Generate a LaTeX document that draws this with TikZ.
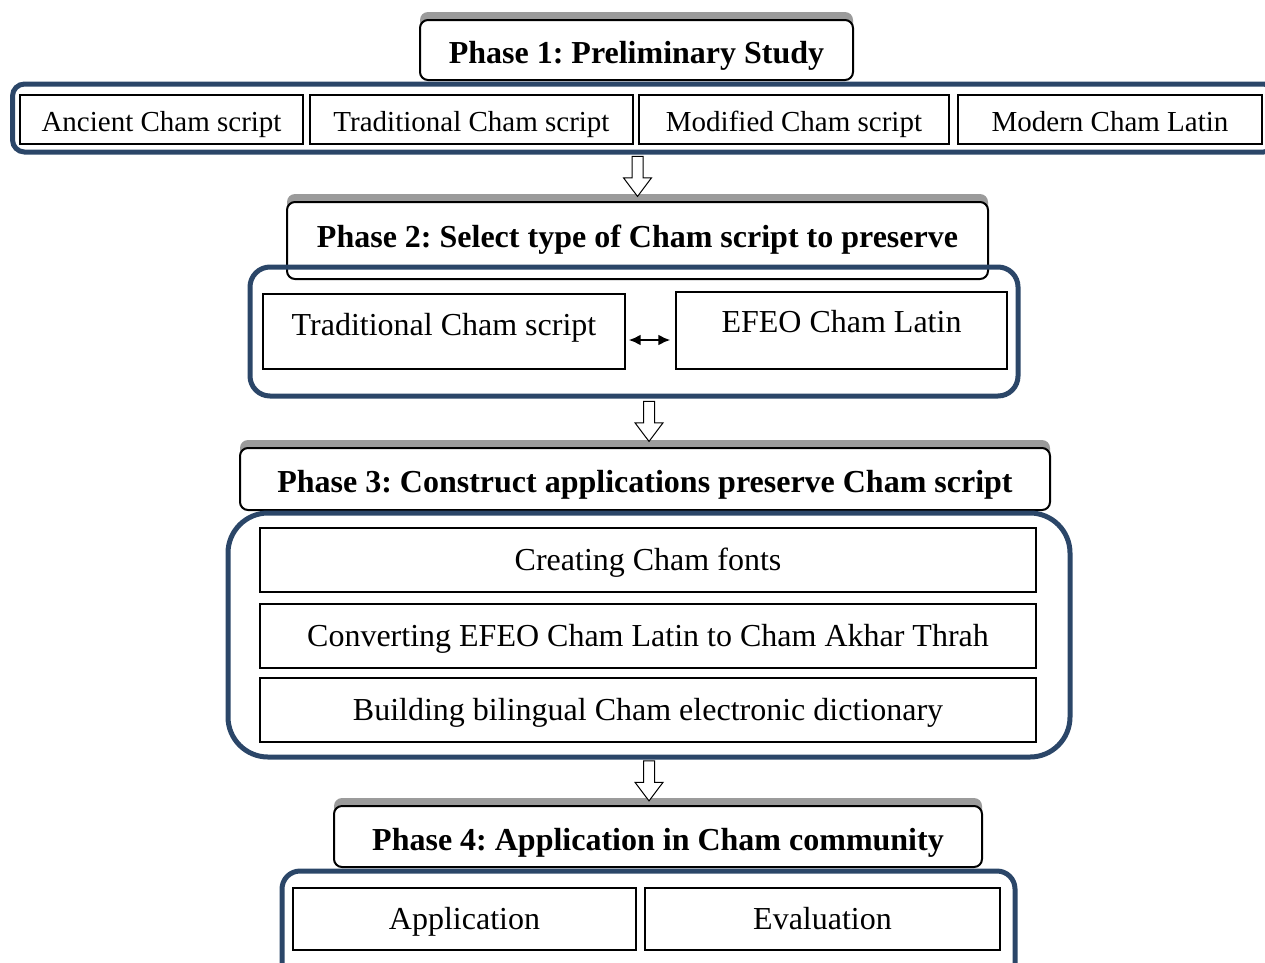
\documentclass[tikz,border=0pt]{standalone}
\usepackage{fontspec}
\setmainfont{Liberation Serif}
\usetikzlibrary{shapes.arrows,shadows,arrows.meta}
\frenchspacing

\definecolor{chamblue}{RGB}{43,70,104}
\definecolor{shadowgray}{RGB}{155,155,155}

\tikzset{
  phasebox/.style={draw, line width=2pt, rounded corners=8pt, fill=white,
    font=\bfseries\fontsize{32}{37}\selectfont, text height=27.5pt, text depth=0pt,
    drop shadow={shadow xshift=0pt, shadow yshift=8pt, opacity=1, fill=shadowgray}},
  phaseframe/.style={draw=chamblue, line width=5pt, rounded corners=#1},
  phaseframe/.default=12pt,
  itembox/.style={draw, line width=1.2pt, font=\fontsize{32}{38}\selectfont, text height=21pt, text depth=0pt},
  smallitem/.style={itembox, font=\fontsize{29}{34}\selectfont, text height=24pt},
  downarrow/.style={single arrow, draw, line width=1pt, fill=white, shape border rotate=270,
    inner sep=5pt, minimum height=40pt, single arrow head extend=8.5pt, single arrow tip angle=74, yshift=5pt},
  twoway/.style={line width=2.5pt, {Latex[length=12pt,width=11pt]}-{Latex[length=12pt,width=11pt]}}
}

\begin{document}
\begin{tikzpicture}[x=1pt,y=-1pt]
  \useasboundingbox (0,0) rectangle (1265,962);
  % phase headers
  \node[phasebox, minimum width=433pt, minimum height=60pt] (h1) at (636.5,50) {Phase 1: Preliminary Study};
  \node[phasebox, minimum width=701pt, minimum height=77pt, text height=21pt, text depth=8pt] (h2) at (637.5,240.5) {Phase 2: Select type of Cham script to preserve};
  \node[phasebox, minimum width=810pt, minimum height=62pt] (h3) at (645,479) {Phase 3: Construct applications preserve Cham script};
  \node[phasebox, minimum width=648pt, minimum height=61pt] (h4) at (658,836.5) {Phase 4: Application in Cham community};
  % frames
  \node[phaseframe, minimum width=1263pt, minimum height=68pt] (f1) at (644,118) {};
  \node[phaseframe=20pt, minimum width=768pt, minimum height=129pt] (f2) at (634,331.5) {};
  \node[phaseframe=40pt, minimum width=842pt, minimum height=244pt] (f3) at (649,635) {};
  \node[phaseframe=18pt, minimum width=733pt, minimum height=110pt] (f4) at (648.5,926) {};
  % phase 1
  \node[smallitem, minimum width=283pt, minimum height=49pt] (anc) at (161.5,119.5) {Ancient Cham script};
  \node[smallitem, minimum width=323pt, minimum height=49pt] (trad) at (471.5,119.5) {Traditional Cham script};
  \node[smallitem, minimum width=310pt, minimum height=49pt] (mod) at (794,119.5) {Modified Cham script};
  \node[smallitem, minimum width=304pt, minimum height=49pt] (modern) at (1110,119.5) {Modern Cham Latin};
  % phase 2
  \node[itembox, minimum width=362pt, minimum height=75pt, text depth=14pt] (trad2) at (444,331.5) {Traditional Cham script};
  \node[itembox, minimum width=331pt, minimum height=77pt, text depth=18pt] (efeo) at (841.5,330.5) {EFEO Cham Latin};
  \coordinate (dbl) at ([yshift=-8.5pt]trad2.east);
  \draw[twoway, shorten <=3pt, shorten >=5pt] (dbl) -- (dbl -| efeo.west);
  % phase 3
  \node[itembox, minimum width=776pt, minimum height=64pt] (fonts) at (648,560) {Creating Cham fonts};
  \node[itembox, minimum width=776pt, minimum height=64pt] (conv) at (648,636) {Converting EFEO Cham Latin to Cham Akhar Thrah};
  \node[itembox, minimum width=776pt, minimum height=64pt] (dict) at (648,710) {Building bilingual Cham electronic dictionary};
  % phase 4
  \node[itembox, minimum width=343pt, minimum height=62pt] (app) at (464.5,919) {Application};
  \node[itembox, minimum width=355pt, minimum height=62pt] (eval) at (822.5,919) {Evaluation};
  % arrows between phases
  \path (f1.south -| h2.north) -- (h2.north) node[midway, downarrow] (a1) {};
  \path (f2.south -| f3.north) -- (h3.north -| f3.north) node[midway, downarrow] (a2) {};
  \path (f3.south) -- (h4.north -| f3.south) node[midway, downarrow] (a3) {};
\end{tikzpicture}
\end{document}
